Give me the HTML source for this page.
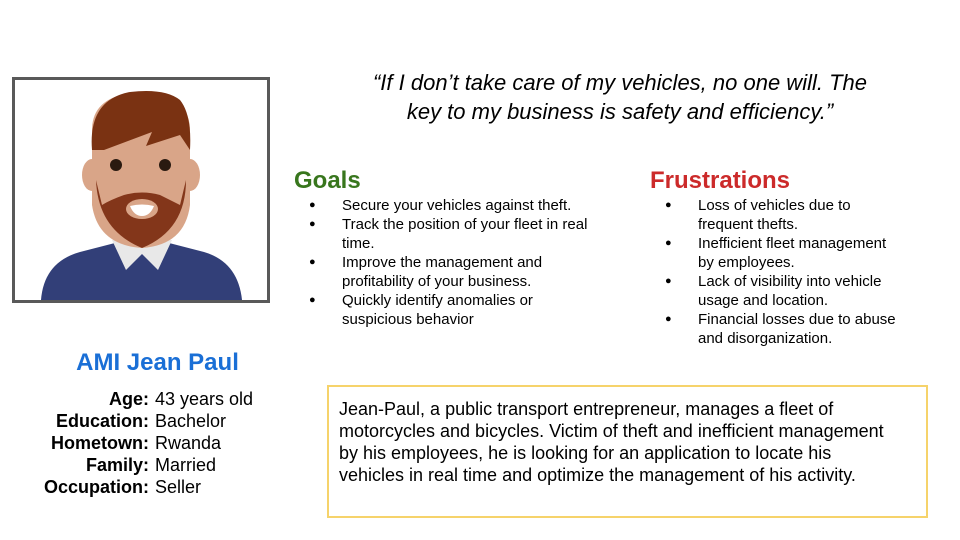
<!DOCTYPE html>
<html><head><meta charset="utf-8"><style>
body{margin:0;width:960px;height:540px;background:#fff;position:relative;overflow:hidden;font-family:"Liberation Sans",sans-serif;color:#000}
.abs{position:absolute;white-space:nowrap}
ul{margin:0;padding:0;list-style:none}
li{position:relative;padding-left:47px;font-size:15px;line-height:19px}
li:before{content:"●";position:absolute;left:14px;font-size:11px}
.h{font-weight:bold;font-size:24px}
.det{font-size:18px;line-height:22px}
.det span.l{display:inline-block;width:149px;text-align:right;font-weight:bold;margin-right:6px}
</style></head><body>
<div class="abs" style="left:12px;top:77px;width:252px;height:220px;border:3px solid #595959;overflow:hidden">
<svg width="252" height="220" viewBox="15 80 252 220">
<path d="M41 300 Q44 262 80 252 L142 236 L204 252 Q238 262 242 300 Z" fill="#323f78"/>
<path d="M112 240 L142 235 L172 240 L158 270 L142 254 L126 270 Z" fill="#e8e8e8"/>
<ellipse cx="92" cy="175" rx="10" ry="16" fill="#d9a588"/>
<ellipse cx="190" cy="175" rx="10" ry="16" fill="#d9a588"/>
<path d="M92 130 Q92 95 140 92 Q190 95 190 130 L190 205 Q185 245 142 248 Q98 245 92 205 Z" fill="#d9a588"/>
<path d="M96 180 Q98 230 142 248 Q186 230 186 180 L180 205 Q170 200 160 195 Q142 190 124 195 Q110 200 102 205 Z" fill="#83361a"/>
<ellipse cx="142" cy="209" rx="16" ry="10" fill="#d9a588"/>
<path d="M130 206 Q142 203 154 206 Q150 216 142 216 Q134 216 130 206Z" fill="#fff"/>
<path d="M92 150 Q88 100 130 92 Q165 88 180 100 Q192 115 190 150 L180 135 L146 146 L152 132 L104 150 Z" fill="#7a3212"/>
<circle cx="116" cy="165" r="6" fill="#2a1a10"/><circle cx="165" cy="165" r="6" fill="#2a1a10"/>
</svg></div>
<div class="abs" style="left:320px;top:68px;width:600px;text-align:center;font-style:italic;font-size:22px;line-height:29px">“If I don’t take care of my vehicles, no one will. The<br>key to my business is safety and efficiency.”</div>
<div class="abs h" style="left:294px;top:167px;color:#38761d">Goals</div>
<ul class="abs" style="left:295px;top:196px">
<li>Secure your vehicles against theft.</li>
<li>Track the position of your fleet in real<br>time.</li>
<li>Improve the management and<br>profitability of your business.</li>
<li>Quickly identify anomalies or<br>suspicious behavior</li>
</ul>
<div class="abs h" style="left:650px;top:167px;color:#cc2a2a">Frustrations</div>
<ul class="abs" style="left:651px;top:196px">
<li>Loss of vehicles due to<br>frequent thefts.</li>
<li>Inefficient fleet management<br>by employees.</li>
<li>Lack of visibility into vehicle<br>usage and location.</li>
<li>Financial losses due to abuse<br>and disorganization.</li>
</ul>
<div class="abs h" style="left:40px;top:349px;width:235px;text-align:center;color:#1a6fd6">AMI Jean Paul</div>
<div class="abs det" style="left:0;top:388px">
<div><span class="l">Age:</span>43 years old</div>
<div><span class="l">Education:</span>Bachelor</div>
<div><span class="l">Hometown:</span>Rwanda</div>
<div><span class="l">Family:</span>Married</div>
<div><span class="l">Occupation:</span>Seller</div>
</div>
<div class="abs" style="left:327px;top:385px;width:587px;height:118px;border:2px solid #f6d36b;padding:11px 0 0 10px;font-size:18px;line-height:22px">Jean-Paul, a public transport entrepreneur, manages a fleet of<br>motorcycles and bicycles. Victim of theft and inefficient management<br>by his employees, he is looking for an application to locate his<br>vehicles in real time and optimize the management of his activity.</div>
</body></html>
